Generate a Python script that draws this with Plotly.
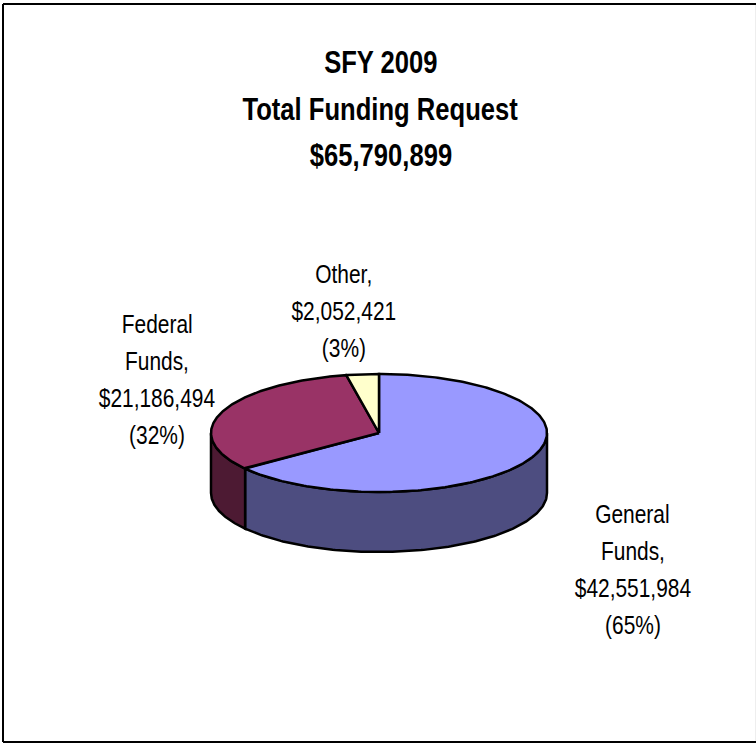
import numpy as np
import plotly.graph_objects as go

categories = ["General Funds", "Federal Funds", "Other"]
values = [42551984, 21186494, 2052421]
top_colors = ["#9999FF", "#993366", "#FFFFCC"]
side_colors = ["#4D4D80", "#4D1A33", "#80800F"]
title_lines = ["SFY 2009", "Total Funding Request", "$65,790,899"]
label_lines = [
    ["General", "Funds,", "$42,551,984", "(65%)"],
    ["Federal", "Funds,", "$21,186,494", "(32%)"],
    ["Other,", "$2,052,421", "(3%)"],
]
label_anchor = [(632.5, 514), (156.5, 324), (343.5, 274)]
title_anchor = (380.5, 62)

CX, CY, RX, RY, DEPTH = 379, 433, 168, 59, 60
W, H = 756, 746
FONT = "Liberation Sans, Arial, sans-serif"
EDGE = 2.5


def ellipse(t, dy=0.0):
    return CX + RX * np.sin(t), CY - RY * np.cos(t) + dy


fractions = np.array(values, dtype=float) / sum(values)
edges = np.concatenate([[0.0], np.cumsum(fractions)]) * 2 * np.pi

fig = go.Figure()

# side walls (only the front half of the cylinder is visible)
for i in range(len(values)):
    lo, hi = max(edges[i], np.pi / 2), min(edges[i + 1], 3 * np.pi / 2)
    if lo >= hi:
        continue
    t = np.linspace(lo, hi, 160)
    x1, y1 = ellipse(t)
    x2, y2 = ellipse(t[::-1], DEPTH)
    fig.add_trace(go.Scatter(
        x=np.r_[x1, x2, x1[0]], y=np.r_[y1, y2, y1[0]], mode="lines",
        fill="toself", fillcolor=side_colors[i],
        line=dict(color="black", width=EDGE), hoverinfo="skip", showlegend=False))

# top faces
for i in range(len(values)):
    t = np.linspace(edges[i], edges[i + 1], 240)
    x, y = ellipse(t)
    fig.add_trace(go.Scatter(
        x=np.r_[CX, x, CX], y=np.r_[CY, y, CY], mode="lines",
        fill="toself", fillcolor=top_colors[i], name=categories[i],
        line=dict(color="black", width=EDGE), hoverinfo="skip", showlegend=False))

for i, line in enumerate(title_lines):
    fig.add_annotation(x=title_anchor[0], y=title_anchor[1] + 46.5 * i, text=f"<b>{line}</b>",
                       showarrow=False, font=dict(family=FONT, size=32, color="black"))
for lines, (ax, ay) in zip(label_lines, label_anchor):
    for j, line in enumerate(lines):
        fig.add_annotation(x=ax, y=ay + 37 * j, text=line, showarrow=False,
                           font=dict(family=FONT, size=25.5, color="black"))

# chart frame: the right edge is only a faint grey hairline in the reference
for x0, y0, x1, y1, colour, width in [
    (3, 4, 3, 742, "black", 2),
    (3, 4, 756, 4, "black", 2),
    (3, 742, 756, 742, "black", 2),
    (755.5, 5, 755.5, 741, "#EEEEEE", 1),
]:
    fig.add_shape(type="line", x0=x0, y0=y0, x1=x1, y1=y1, line=dict(color=colour, width=width))

fig.update_layout(
    width=W, height=H, margin=dict(l=0, r=0, t=0, b=0),
    paper_bgcolor="white", plot_bgcolor="white", showlegend=False,
    xaxis=dict(range=[0, W], visible=False, fixedrange=True),
    yaxis=dict(range=[H, 0], visible=False, fixedrange=True),
)

# No narrow face is installed: condense the real text to Arial Narrow proportions.
post = """
document.body.style.margin = '0';
document.documentElement.style.overflow = 'hidden';
document.querySelectorAll('.annotation-text').forEach(function (t) {
  var l = t.getComputedTextLength();
  var k = t.innerHTML.indexOf('bold') >= 0 ? 0.80 : 0.82;
  t.setAttribute('textLength', (l * k).toFixed(1));
  t.setAttribute('lengthAdjust', 'spacingAndGlyphs');
});
"""
fig.write_html("out.html", config={"displayModeBar": False}, post_script=post)
